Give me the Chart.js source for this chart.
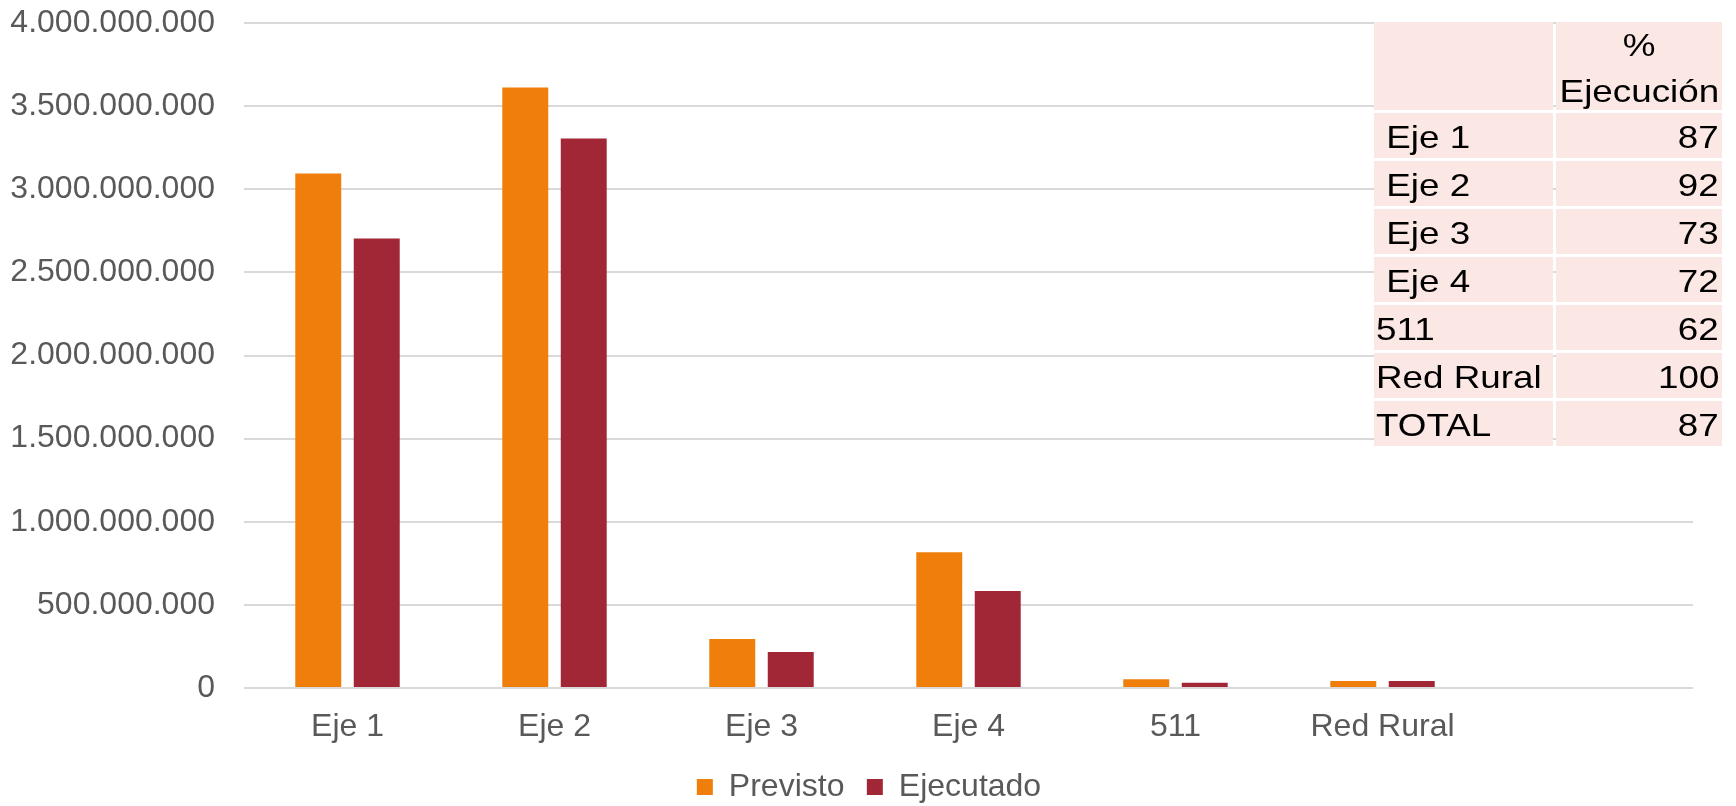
<!DOCTYPE html>
<html>
<head>
<meta charset="utf-8">
<script src="https://cdn.jsdelivr.net/npm/chart.js@4.4.1/dist/chart.umd.min.js"></script>
<style>
  html, body { margin: 0; padding: 0; background: #ffffff; }
  #wrap { position: relative; width: 1736px; height: 806px; }
  #chart { position: absolute; left: 0; top: 0; }
  #tbl {
    position: absolute; left: 1374px; top: 22px;
    display: grid; grid-template-columns: 179px 166px;
    column-gap: 3px; row-gap: 3px;
    font-family: "Liberation Sans", Arial, sans-serif; font-size: 32px; color: #000;
  }
  #tbl > div { background: #FBE8E4; white-space: pre; height: 45px; line-height: 45px; padding: 0 2px; box-sizing: border-box; overflow: visible; }
  #tbl > div > span { display: inline-block; transform: translateY(2px) scaleX(1.15); transform-origin: left center; }
  #tbl > div.hd { height: 88px; line-height: 46px; text-align: center; }
  #tbl > div.hd > span { transform: scaleX(1.15); transform-origin: center center; }
  #tbl > div.num { text-align: right; padding-right: 3px; }
  #tbl > div.num > span { transform-origin: right center; }
</style>
</head>
<body>
<div id="wrap">
  <canvas id="chart" width="1736" height="806"></canvas>
  <div id="tbl"></div>
</div>
<script>
// ---- Data ----
const categories = ["Eje 1", "Eje 2", "Eje 3", "Eje 4", "511", "Red Rural", ""];
const previsto   = [3095000000, 3612000000, 294000000, 816000000, 52000000, 42000000, null];
const ejecutado  = [2704000000, 3305000000, 216000000, 583000000, 32000000, 42000000, null];
const seriesNames = ["Previsto", "Ejecutado"];
const tableHeader = ["", "%\nEjecución"];
const tableLabels = [" Eje 1", " Eje 2", " Eje 3", " Eje 4", "511", "Red Rural", "TOTAL"];
const tablePct    = [87, 92, 73, 72, 62, 100, 87];

// ---- Table overlay ----
const tbl = document.getElementById('tbl');
function cell(text, cls) {
  const d = document.createElement('div');
  if (cls) d.className = cls;
  text.split('\n').forEach((line, i) => {
    if (i > 0) d.appendChild(document.createElement('br'));
    const s = document.createElement('span');
    s.textContent = line;
    d.appendChild(s);
  });
  tbl.appendChild(d);
}
cell(tableHeader[0], 'hd');
cell(tableHeader[1], 'hd');
tableLabels.forEach((lab, i) => { cell(lab, ''); cell(String(tablePct[i]), 'num'); });

// ---- Chart ----
function fmt(v) {
  return String(Math.round(v)).replace(/\B(?=(\d{3})+(?!\d))/g, '.');
}
const FONT = '"Liberation Sans", Arial, sans-serif';

const legendShift = {
  id: 'legendShift',
  afterLayout(chart) { if (chart.legend) chart.legend.left += 45; }
};

function build() {
  new Chart(document.getElementById('chart'), {
    type: 'bar',
    data: {
      labels: categories,
      datasets: [
        { label: seriesNames[0], data: previsto, backgroundColor: '#EF7F0A', categoryPercentage: 0.565, barPercentage: 0.786 },
        { label: seriesNames[1], data: ejecutado, backgroundColor: '#A12737', categoryPercentage: 0.565, barPercentage: 0.786 }
      ]
    },
    plugins: [legendShift],
    options: {
      responsive: false,
      devicePixelRatio: 1,
      animation: false,
      layout: { padding: { left: 0, right: 43, top: 23, bottom: -7 } },
      plugins: {
        tooltip: { enabled: false },
        legend: {
          position: 'bottom',
          labels: {
            boxWidth: 16, boxHeight: 16, padding: 22.4,
            color: '#595959',
            font: { family: FONT, size: 32 }
          }
        }
      },
      scales: {
        x: {
          grid: { display: false, drawTicks: false },
          border: { display: false },
          ticks: { color: '#595959', font: { family: FONT, size: 32 }, padding: 20, maxRotation: 0, autoSkip: false },
          afterFit: (s) => { s.height = 60.6; }
        },
        y: {
          min: 0, max: 4000000000,
          grid: { color: '#D9D9D9', lineWidth: 2, drawTicks: false },
          border: { display: false },
          ticks: { stepSize: 500000000, color: '#595959', font: { family: FONT, size: 32 }, padding: 29, callback: (v) => fmt(v) },
          afterFit: (s) => { s.width = 244; s.paddingTop = 0; s.paddingBottom = 0; }
        }
      }
    }
  });
}
if (document.fonts && document.fonts.load) {
  document.fonts.load('32px "Liberation Sans"').then(build, build);
} else { build(); }
</script>
</body>
</html>
